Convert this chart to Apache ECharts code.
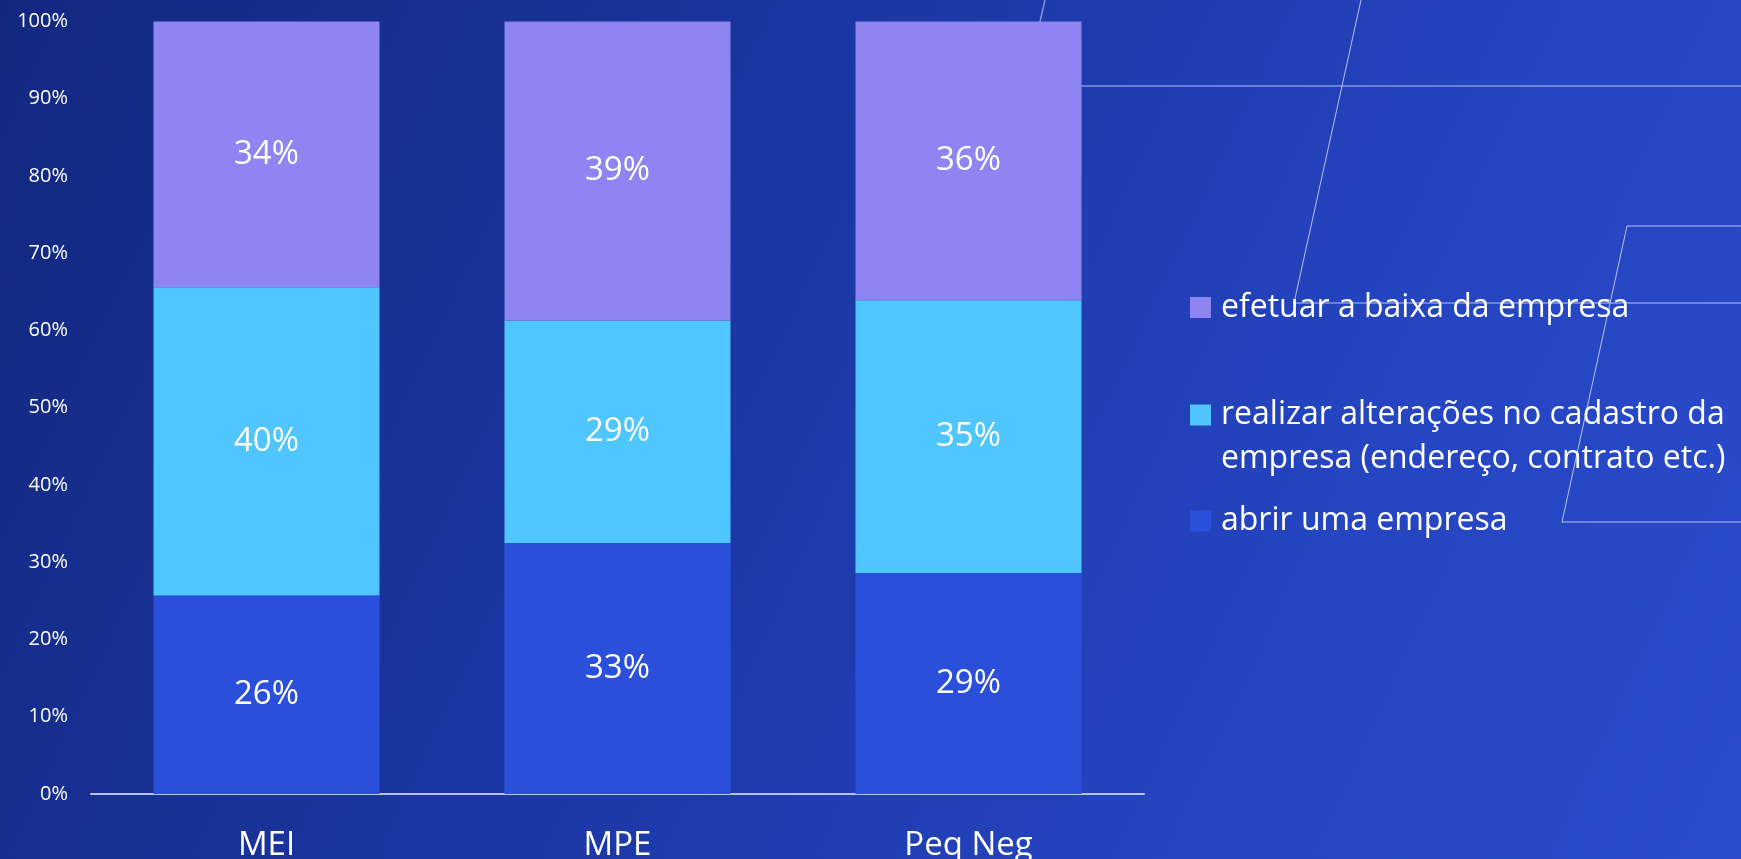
<!DOCTYPE html>
<html>
<head>
<meta charset="utf-8">
<script src="https://cdn.jsdelivr.net/npm/echarts@6/dist/echarts.min.js"></script>
<style>
  html, body { margin: 0; padding: 0; }
  #chart {
    width: 1741px;
    height: 859px;
    background: linear-gradient(115deg, #12287f 0%, #1b36a2 40%, #2444c0 72%, #2a4bcc 100%);
  }
</style>
</head>
<body>
<div id="chart"></div>
<script>
// data (percent of each bar)
const categories = ['MEI', 'MPE', 'Peq Neg']
const abrir = [25.7, 32.5, 28.6]
const realizar = [39.9, 28.8, 35.3]
const efetuar = [34.4, 38.7, 36.1]

const seriesNames = [
  'abrir uma empresa',
  'realizar alterações no cadastro da empresa (endereço, contrato etc.)',
  'efetuar a baixa da empresa'
]
const colors = ['#2a4fda', '#4fc6fd', '#8e85f2']

const FONT = '"Open Sans", "Noto Sans", sans-serif'

const chart = echarts.init(document.getElementById('chart'), null, { renderer: 'canvas' })

const labelStyle = {
  show: true,
  position: 'inside',
  color: '#ffffff',
  fontSize: 33,
  fontFamily: FONT,
  formatter: (p) => Math.round(p.value) + '%'
}

const legendBase = {
  left: 1190,
  orient: 'vertical',
  padding: 0,
  itemWidth: 21,
  itemHeight: 21,
  icon: 'rect',
  selectedMode: false
}
const legendText = {
  color: '#ffffff',
  fontSize: 32,
  lineHeight: 44,
  fontFamily: FONT,
  padding: [0, 0, 0, 5]
}

// thin decorative lines of the slide background
const deco = { stroke: 'rgba(235,238,255,0.75)', lineWidth: 1, fill: null }

chart.setOption({
  backgroundColor: 'transparent',
  animation: false,
  grid: { left: 91, right: 597, top: 21.5, bottom: 65, outerBoundsMode: 'none' },
  legend: [
    Object.assign({}, legendBase, {
      top: 285.5,
      data: [seriesNames[2]],
      textStyle: legendText
    }),
    Object.assign({}, legendBase, {
      top: 393,
      itemHeight: 88,
      // square sits beside the first of the two text lines
      icon: 'path://M0,0h0.01v0.01h-0.01z M0,11.5h21v21h-21z M0,88h0.01v0.01h-0.01z',
      data: [seriesNames[1]],
      formatter: () => 'realizar alterações no cadastro da\nempresa (endereço, contrato etc.)',
      textStyle: legendText
    }),
    Object.assign({}, legendBase, {
      top: 499,
      data: [seriesNames[0]],
      textStyle: legendText
    })
  ],
  xAxis: {
    type: 'category',
    data: categories,
    axisTick: { show: false },
    axisLine: { lineStyle: { color: '#b9c1ef', width: 2 } },
    axisLabel: { color: '#ffffff', fontSize: 33, fontFamily: FONT, margin: 35 }
  },
  yAxis: {
    type: 'value',
    min: 0,
    max: 100,
    interval: 10,
    splitLine: { show: false },
    axisLine: { show: false },
    axisLabel: {
      color: '#ffffff',
      fontSize: 20,
      fontFamily: FONT,
      margin: 23,
      formatter: '{value}%'
    }
  },
  graphic: [
    {
      type: 'polyline', z: 0, silent: true,
      shape: { points: [[1045, 0], [1025, 86], [1741, 86]] },
      style: { stroke: 'rgba(200,205,255,0.6)', lineWidth: 1.5, fill: null }
    },
    {
      type: 'polyline', z: 0, silent: true,
      shape: { points: [[1361, 0], [1294, 303], [1741, 303]] },
      style: deco
    },
    {
      type: 'polyline', z: 0, silent: true,
      shape: { points: [[1741, 226], [1627, 226], [1562, 522], [1741, 522]] },
      style: deco
    }
  ],
  series: [
    {
      name: seriesNames[0], type: 'bar', stack: 'total', barWidth: 226,
      itemStyle: { color: colors[0] }, label: labelStyle, data: abrir
    },
    {
      name: seriesNames[1], type: 'bar', stack: 'total', barWidth: 226,
      itemStyle: { color: colors[1] }, label: labelStyle, data: realizar
    },
    {
      name: seriesNames[2], type: 'bar', stack: 'total', barWidth: 226,
      itemStyle: { color: colors[2] }, label: labelStyle, data: efetuar
    }
  ]
})
</script>
</body>
</html>
